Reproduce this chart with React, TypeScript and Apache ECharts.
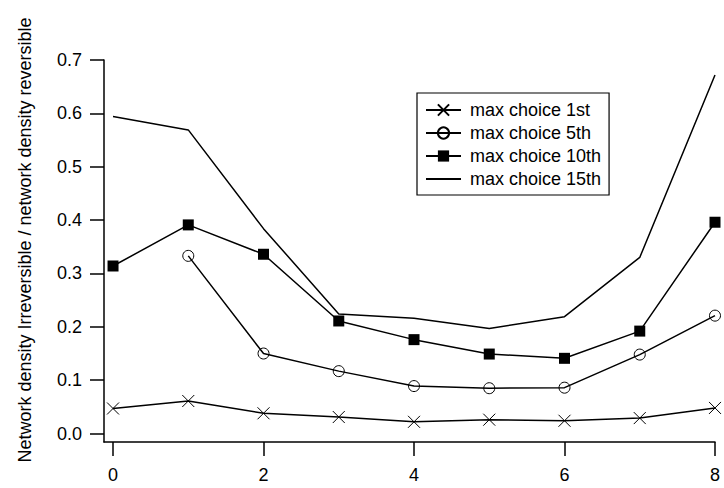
import React, { useEffect, useRef } from "react";
import * as echarts from "echarts";

const xValues = [0, 1, 2, 3, 4, 5, 6, 7, 8];
const seriesNames = ["max choice 1st", "max choice 5th", "max choice 10th", "max choice 15th"];
const choice1st = [0.047, 0.061, 0.038, 0.031, 0.022, 0.026, 0.024, 0.029, 0.048];
const choice5th = [null, 0.333, 0.150, 0.117, 0.089, 0.085, 0.086, 0.148, 0.221];
const choice10th = [0.314, 0.391, 0.336, 0.211, 0.176, 0.149, 0.141, 0.192, 0.396];
const choice15th = [0.594, 0.569, 0.384, 0.224, 0.216, 0.197, 0.219, 0.330, 0.672];
const xTicks = [0, 2, 4, 6, 8];
const yTicks = [0, 0.1, 0.2, 0.3, 0.4, 0.5, 0.6, 0.7];
const yTitle = "Network density Irreversible / network density reversible";

const FONT = "'Liberation Sans', Arial, Helvetica, sans-serif";

function pairs(vals: (number | null)[]) {
  return xValues.map((x, i) => [x, vals[i] === null ? null : vals[i]]);
}

export default function App() {
  const ref = useRef<HTMLDivElement>(null);
  useEffect(() => {
    if (!ref.current) return;
    const chart = echarts.init(ref.current, undefined, { renderer: "svg" });
    const lineStyle = { color: "#000", width: 1.5 };
    const option: any = {
      animation: false,
      backgroundColor: "#fff",
      textStyle: { fontFamily: FONT },
      grid: { left: 104, right: 9, top: 60, bottom: 46, containLabel: false },
      legend: {
        orient: "vertical",
        left: 417,
        top: 93,
        data: [
          { name: seriesNames[0] },
          { name: seriesNames[1] },
          { name: seriesNames[2] },
          { name: seriesNames[3], itemStyle: { opacity: 0 } },
        ],
        borderColor: "#000",
        borderWidth: 1.2,
        padding: [8, 8, 7, 8],
        itemWidth: 35,
        itemHeight: 14,
        itemGap: 5,
        textStyle: { fontSize: 18, color: "#000", fontFamily: FONT, padding: [0, 0, 0, 4] },
      },
      graphic: [
        {
          type: "text",
          x: 25,
          y: 240,
          rotation: Math.PI / 2,
          style: {
            text: yTitle,
            fontSize: 18,
            fontFamily: FONT,
            fill: "#000",
            align: "center",
            verticalAlign: "middle",
          },
        },
      ],
      xAxis: {
        type: "value",
        min: -0.12,
        max: 8,
        splitLine: { show: false },
        axisLine: { show: true, onZero: false, lineStyle: { color: "#000", width: 1.5 } },
        axisTick: { show: true, customValues: xTicks, length: 14, lineStyle: { color: "#000", width: 1.5 } },
        axisLabel: { customValues: xTicks, fontSize: 18, color: "#000", fontFamily: FONT, margin: 24 },
      },
      yAxis: {
        type: "value",
        min: -0.0158,
        max: 0.7,
        splitLine: { show: false },
        axisLine: { show: true, onZero: false, lineStyle: { color: "#000", width: 1.5 } },
        axisTick: { show: true, customValues: yTicks, length: 14, lineStyle: { color: "#000", width: 1.5 } },
        axisLabel: {
          customValues: yTicks,
          fontSize: 18,
          color: "#000",
          fontFamily: FONT,
          margin: 22,
          formatter: (v: number) => v.toFixed(1),
        },
      },
      series: [
        {
          name: seriesNames[0],
          type: "line",
          data: pairs(choice1st),
          symbol: "path://M0,0L10,10M10,0L0,10",
          symbolSize: 12,
          showAllSymbol: true,
          lineStyle,
          itemStyle: { color: "none", borderColor: "#000", borderWidth: 1 },
        },
        {
          name: seriesNames[1],
          type: "line",
          data: pairs(choice5th),
          symbol: "circle",
          symbolSize: 11,
          showAllSymbol: true,
          connectNulls: false,
          lineStyle,
          itemStyle: { color: "transparent", borderColor: "#000", borderWidth: 1 },
        },
        {
          name: seriesNames[2],
          type: "line",
          data: pairs(choice10th),
          symbol: "rect",
          symbolSize: 11,
          showAllSymbol: true,
          lineStyle,
          itemStyle: { color: "#000", borderColor: "#000", borderWidth: 0 },
        },
        {
          name: seriesNames[3],
          type: "line",
          data: pairs(choice15th),
          symbol: "none",
          lineStyle,
          itemStyle: { color: "none", borderWidth: 0 },
        },
      ],
    };
    chart.setOption(option);
    return () => chart.dispose();
  }, []);
  return <div ref={ref} style={{ width: 724, height: 488, position: "absolute", left: 0, top: 0 }} />;
}
